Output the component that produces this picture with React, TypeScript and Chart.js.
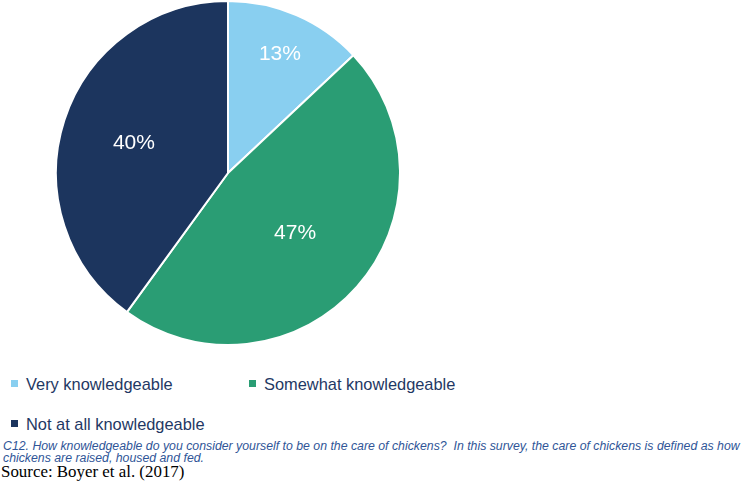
import React, { useEffect, useRef } from "react";
import { Chart, registerables } from "chart.js";

Chart.register(...registerables);

const categories = ["Very knowledgeable", "Somewhat knowledgeable", "Not at all knowledgeable"];
const shares = [13, 47, 40];
const sliceColors = ["#89CFF0", "#2A9D74", "#1C355E"];
const valueLabels = ["13%", "47%", "40%"];

const captionLines = [
  "C12. How knowledgeable do you consider yourself to be on the care of chickens?  In this survey, the care of chickens is defined as how",
  "chickens are raised, housed and fed.",
];
const sourceText = "Source: Boyer et al. (2017)";

// layout only
const labelRadiusFrac = [0.76, 0.52, 0.575];
const legendPos = [
  { left: 11, top: 376 },
  { left: 249, top: 376 },
  { left: 11, top: 416 },
];

const labelPlugin = {
  id: "sliceLabels",
  afterDatasetsDraw(chart: any) {
    const ctx = chart.ctx;
    const meta = chart.getDatasetMeta(0);
    ctx.save();
    ctx.fillStyle = "#ffffff";
    ctx.font = '21px "Liberation Sans", Arial, sans-serif';
    ctx.textAlign = "center";
    ctx.textBaseline = "middle";
    meta.data.forEach((arc: any, i: number) => {
      const p = arc.getProps(["x", "y", "startAngle", "endAngle", "outerRadius"], true);
      const mid = (p.startAngle + p.endAngle) / 2;
      const r = p.outerRadius * labelRadiusFrac[i];
      ctx.fillText(valueLabels[i], p.x + Math.cos(mid) * r, p.y + Math.sin(mid) * r + 1);
    });
    ctx.restore();
  },
};

export default function App() {
  const ref = useRef<HTMLCanvasElement | null>(null);
  useEffect(() => {
    if (!ref.current) return;
    const chart = new Chart(ref.current, {
      type: "pie",
      data: {
        labels: categories,
        datasets: [
          {
            data: shares,
            backgroundColor: sliceColors,
            borderColor: "#ffffff",
            borderWidth: 2,
          },
        ],
      },
      options: {
        responsive: false,
        animation: false,
        layout: { padding: 0 },
        plugins: {
          legend: { display: false },
          tooltip: { enabled: false },
        },
      },
      plugins: [labelPlugin],
    });
    return () => chart.destroy();
  }, []);

  return (
    <div style={{ position: "absolute", left: 0, top: 0, width: 746, height: 488, background: "#fff", overflow: "hidden" }}>
      <canvas ref={ref} width={346} height={346} style={{ position: "absolute", left: 55, top: 0, width: 346, height: 346 }} />
      {categories.map((c, i) => (
        <div
          key={c}
          style={{
            position: "absolute",
            left: legendPos[i].left,
            top: legendPos[i].top,
            whiteSpace: "nowrap",
            font: '16.4px/16.4px "Liberation Sans", Arial, sans-serif',
            color: "#1F3864",
          }}
        >
          <span style={{ display: "inline-block", width: 7, height: 7, background: sliceColors[i], marginRight: 8, verticalAlign: "3px" }} />
          {c}
        </div>
      ))}
      <div
        style={{
          position: "absolute",
          left: 3,
          top: 441,
          whiteSpace: "pre",
          font: 'italic 12.3px/11.8px "Liberation Sans", Arial, sans-serif',
          color: "#2F5597",
        }}
      >
        {captionLines.map((l) => (
          <div key={l}>{l}</div>
        ))}
      </div>
      <div
        style={{
          position: "absolute",
          left: 1,
          top: 464,
          whiteSpace: "nowrap",
          font: '16.9px/16.9px "Liberation Serif", "Times New Roman", serif',
          color: "#000",
        }}
      >
        {sourceText}
      </div>
    </div>
  );
}
